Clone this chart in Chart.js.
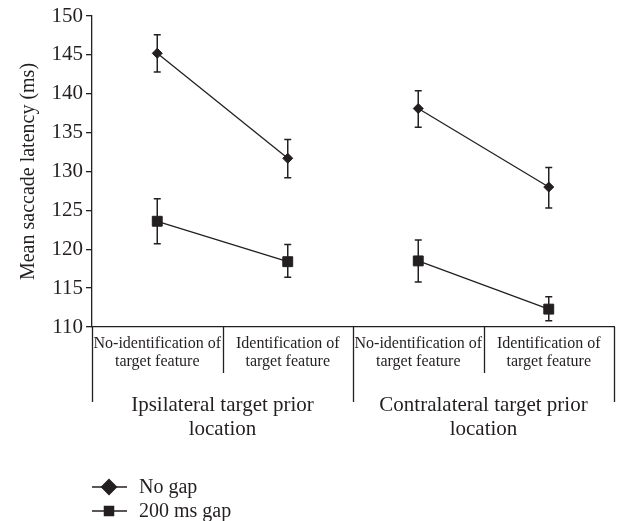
<!DOCTYPE html>
<html><head><meta charset="utf-8">
<script src="https://cdn.jsdelivr.net/npm/chart.js@4/dist/chart.umd.min.js"></script>
<style>html,body{margin:0;padding:0;background:#fff}</style>
</head><body>
<canvas id="c" width="622" height="521"></canvas>
<script>
const categories = [
  ['No-identification of', 'target feature'],
  ['Identification of', 'target feature'],
  ['No-identification of', 'target feature'],
  ['Identification of', 'target feature']
];
const groupLabels = [
  ['Ipsilateral target prior', 'location'],
  ['Contralateral target prior', 'location']
];
const seriesNames = ['No gap', '200 ms gap'];
const noGap = [145.2, 131.7, 138.1, 128.0];
const noGapHigh = [147.6, 134.1, 140.4, 130.5];
const noGapLow = [142.8, 129.2, 135.7, 125.3];
const gap200 = [123.6, 118.4, 118.5, 112.3];
const gap200High = [126.5, 120.6, 121.2, 113.9];
const gap200Low = [120.7, 116.4, 115.8, 110.8];
const yMin = 110, yMax = 150, yStep = 5;
const yTitle = 'Mean saccade latency (ms)';

const INK = '#231f20';
const FAMILY = "'Liberation Serif', 'DejaVu Serif', serif";
Chart.defaults.font.family = FAMILY;
Chart.defaults.color = INK;

const errHigh = [noGapHigh, gap200High];
const errLow = [noGapLow, gap200Low];

const segStyle = { borderColor: ctx => (ctx.p0DataIndex === 1 ? 'rgba(0,0,0,0)' : INK) };

const extras = {
  id: 'extras',
  beforeDatasetsDraw(chart) {
    const ctx = chart.ctx, ys = chart.scales.y;
    ctx.save();
    ctx.strokeStyle = INK;
    ctx.lineWidth = 1.5;
    chart.data.datasets.forEach((ds, i) => {
      const meta = chart.getDatasetMeta(i);
      meta.data.forEach((pt, j) => {
        const x = pt.x;
        const yh = ys.getPixelForValue(errHigh[i][j]);
        const yl = ys.getPixelForValue(errLow[i][j]);
        ctx.beginPath();
        ctx.moveTo(x, yh); ctx.lineTo(x, yl);
        ctx.moveTo(x - 3.5, yh); ctx.lineTo(x + 3.5, yh);
        ctx.moveTo(x - 3.5, yl); ctx.lineTo(x + 3.5, yl);
        ctx.stroke();
      });
    });
    ctx.restore();
  },
  afterDraw(chart) {
    const ctx = chart.ctx, xs = chart.scales.x;
    const n = categories.length;
    const bounds = [];
    for (let i = 0; i <= n; i++) {
      if (i === 0) bounds.push(xs.left);
      else if (i === n) bounds.push(xs.right);
      else bounds.push((xs.getPixelForValue(i - 1) + xs.getPixelForValue(i)) / 2);
    }
    const base = xs.top;
    ctx.save();
    ctx.strokeStyle = INK;
    ctx.lineWidth = 1.3;
    bounds.forEach((b, i) => {
      const len = (i % 2 === 0) ? 75 : 46;
      ctx.beginPath();
      ctx.moveTo(Math.round(b) + 0.5, base);
      ctx.lineTo(Math.round(b) + 0.5, base + len);
      ctx.stroke();
    });
    // group labels
    ctx.fillStyle = INK;
    ctx.font = '21px ' + FAMILY;
    ctx.textAlign = 'center';
    ctx.textBaseline = 'middle';
    groupLabels.forEach((lines, g) => {
      const cx = (bounds[g * 2] + bounds[g * 2 + 2]) / 2;
      lines.forEach((t, k) => ctx.fillText(t, cx, base + 78 + k * 24));
    });
    // legend
    const lx = xs.left, ly0 = 487;
    chart.data.datasets.forEach((ds, i) => {
      const y = ly0 + i * 24;
      ctx.beginPath();
      ctx.moveTo(lx, y); ctx.lineTo(lx + 35, y);
      ctx.stroke();
      ctx.fillStyle = INK;
      Chart.helpers.drawPoint(ctx, {
        pointStyle: ds.pointStyle,
        radius: ds.pointStyle === 'rectRot' ? 7.5 : 6.5,
        rotation: 0,
        borderWidth: 1
      }, lx + 17, y);
      ctx.fillStyle = INK;
      ctx.font = '20px ' + FAMILY;
      ctx.textAlign = 'left';
      ctx.textBaseline = 'middle';
      ctx.fillText(ds.label, lx + 47, y + 1);
    });
    ctx.restore();
  }
};

new Chart(document.getElementById('c'), {
  type: 'line',
  data: {
    labels: categories,
    datasets: [
      {
        label: seriesNames[0], data: noGap,
        borderColor: INK, backgroundColor: INK, borderWidth: 1.3,
        pointStyle: 'rectRot', pointRadius: 5, pointHoverRadius: 5,
        pointBackgroundColor: INK, pointBorderColor: INK, pointBorderWidth: 1,
        segment: segStyle, tension: 0
      },
      {
        label: seriesNames[1], data: gap200,
        borderColor: INK, backgroundColor: INK, borderWidth: 1.3,
        pointStyle: 'rect', pointRadius: 7, pointHoverRadius: 7,
        pointBackgroundColor: INK, pointBorderColor: INK, pointBorderWidth: 1,
        segment: segStyle, tension: 0
      }
    ]
  },
  options: {
    responsive: false,
    animation: false,
    events: [],
    layout: { padding: { top: 16, right: 7, left: 0, bottom: 0 } },
    plugins: { legend: { display: false }, tooltip: { enabled: false } },
    scales: {
      x: {
        type: 'category',
        offset: true,
        grid: { display: true, drawOnChartArea: false, drawTicks: false },
        border: { display: true, color: INK, width: 1.3 },
        ticks: { font: { size: 16, lineHeight: 1.1 }, color: INK, padding: 8, maxRotation: 0, autoSkip: false },
        afterFit: s => { s.height = 194; }
      },
      y: {
        min: yMin, max: yMax,
        ticks: { stepSize: yStep, font: { size: 21 }, color: INK, padding: 3 },
        grid: { drawOnChartArea: false, tickLength: 6, color: INK, lineWidth: 1.3 },
        border: { display: true, color: INK, width: 1.3 },
        title: { display: true, text: yTitle, font: { size: 20 }, color: INK, padding: { top: 17, bottom: 0 } },
        afterFit: s => { s.width = 92; }
      }
    }
  },
  plugins: [extras]
});
</script>
</body></html>
